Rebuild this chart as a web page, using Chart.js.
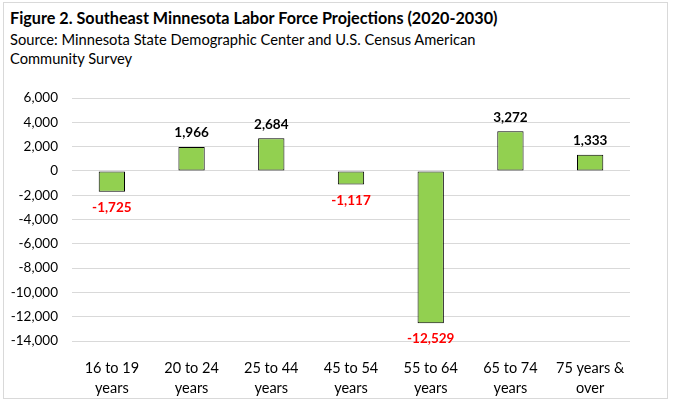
<!DOCTYPE html>
<html>
<head>
<meta charset="utf-8">
<script src="https://cdn.jsdelivr.net/npm/chart.js@4"></script>
<style>
  html, body { margin: 0; padding: 0; background: #ffffff; }
  body { width: 673px; height: 414px; position: relative; overflow: hidden; font-family: Lato, "Open Sans", sans-serif; }
  .frame { position: absolute; left: 3px; top: 2px; width: 665px; height: 397px; border: 1px solid #d9d9d9; box-sizing: border-box; }
  .title { position: absolute; left: 10px; top: 8px; font-size: 16.2px; font-weight: bold; color: #000; white-space: nowrap; }
  .source { position: absolute; left: 10px; top: 30px; font-size: 14.7px; line-height: 19px; color: #000; }
  canvas { position: absolute; left: 0; top: 0; }
</style>
</head>
<body>
<div class="frame"></div>
<div class="title">Figure 2. Southeast Minnesota Labor Force Projections (2020-2030)</div>
<div class="source">Source: Minnesota State Demographic Center and U.S. Census American<br>Community Survey</div>
<canvas id="chart" width="673" height="414"></canvas>
<script>
// age groups, each split into the two lines shown under the axis
const ageGroups = [
  ['16 to 19', 'years'],
  ['20 to 24', 'years'],
  ['25 to 44', 'years'],
  ['45 to 54', 'years'],
  ['55 to 64', 'years'],
  ['65 to 74', 'years'],
  ['75 years &', 'over'],
];
const laborForceChange = [-1725, 1966, 2684, -1117, -12529, 3272, 1333];
const yTicks = [6000, 4000, 2000, 0, -2000, -4000, -6000, -8000, -10000, -12000, -14000];

const fontFamily = 'Lato, "Open Sans", sans-serif';
const fmt = (v) => v.toLocaleString('en-US');

const valueLabels = {
  id: 'valueLabels',
  afterDatasetsDraw(chart) {
    const meta = chart.getDatasetMeta(0);
    const data = chart.data.datasets[0].data;
    const ctx = chart.ctx;
    ctx.save();
    ctx.textAlign = 'center';
    ctx.textBaseline = 'middle';
    ctx.font = `bold 13.5px ${fontFamily}`;
    meta.data.forEach((bar, i) => {
      const v = data[i];
      if (v >= 0) {
        ctx.fillStyle = '#000000';
        ctx.fillText(fmt(v), bar.x, bar.y - 14);
      } else {
        ctx.fillStyle = '#ff0000';
        ctx.fillText(fmt(v), bar.x, bar.y + 16);
      }
    });
    ctx.restore();
  },
};

new Chart(document.getElementById('chart'), {
  type: 'bar',
  data: {
    labels: ageGroups,
    datasets: [{
      data: laborForceChange,
      backgroundColor: '#92d050',
      borderColor: '#000000',
      borderWidth: 1,
      borderSkipped: false,
      categoryPercentage: 1,
      barPercentage: 0.33,
    }],
  },
  options: {
    responsive: false,
    animation: false,
    layout: { padding: { top: 98, right: 43, bottom: 0, left: 0 } },
    plugins: {
      legend: { display: false },
      tooltip: { enabled: false },
    },
    scales: {
      x: {
        grid: { display: false },
        border: { display: false },
        ticks: {
          color: '#000000',
          padding: 9,
          maxRotation: 0,
          autoSkip: false,
          font: { family: fontFamily, size: 14.5, lineHeight: 1.38 },
        },
        afterFit(scale) { scale.height = 73; },
      },
      y: {
        min: -14000,
        max: 6000,
        afterBuildTicks(scale) { scale.ticks = yTicks.map((value) => ({ value })); },
        grid: { color: '#d9d9d9', drawTicks: false },
        border: { display: false },
        ticks: {
          color: '#000000',
          padding: 14,
          font: { family: fontFamily, size: 13.5 },
          callback: (v) => fmt(v),
        },
        afterFit(scale) { scale.width = 72; },
      },
    },
  },
  plugins: [valueLabels],
});
</script>
</body>
</html>
